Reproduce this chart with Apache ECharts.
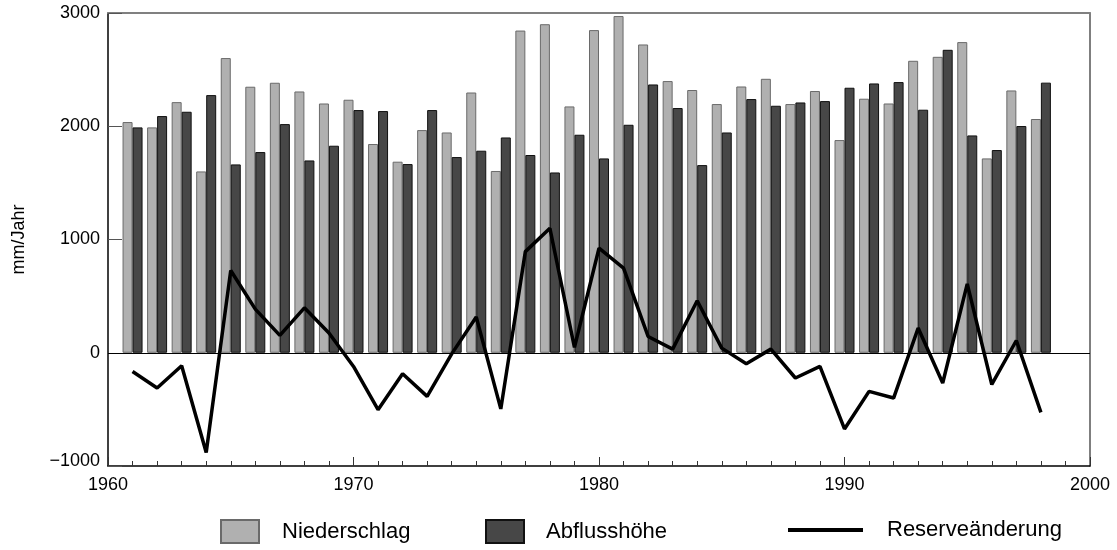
<!DOCTYPE html>
<html>
<head>
<meta charset="utf-8">
<script src="https://cdn.jsdelivr.net/npm/echarts@6/dist/echarts.min.js"></script>
<style>
html,body{margin:0;padding:0;background:#fff;}
#chart{width:1117px;height:550px;}
</style>
</head>
<body>
<div id="chart"></div>
<script>
var years = [1961,1962,1963,1964,1965,1966,1967,1968,1969,1970,
             1971,1972,1973,1974,1975,1976,1977,1978,1979,1980,
             1981,1982,1983,1984,1985,1986,1987,1988,1989,1990,
             1991,1992,1993,1994,1995,1996,1997,1998];
var niederschlag = [2037,1990,2213,1601,2602,2349,2384,2307,2201,2234,
                    1843,1687,1966,1945,2298,1605,2845,2901,2175,2849,
                    2973,2722,2399,2320,2196,2351,2419,2196,2311,1878,
                    2243,2201,2578,2613,2743,1716,2316,2064];
var abflusshoehe = [1990,2090,2128,2275,1663,1772,2019,1698,1828,2143,
                    2134,1666,2143,1728,1784,1901,1746,1592,1925,1716,
                    2013,2369,2161,1657,1945,2240,2181,2210,2222,2340,
                    2378,2390,2146,2675,1919,1790,2002,2385];
var reserve = [-165,-311,-115,-880,726,385,153,397,174,-121,
               -503,-185,-385,-10,315,-496,893,1099,47,923,
               747,144,32,459,41,-97,32,-223,-121,-673,
               -341,-400,218,-267,608,-280,108,-526];
var yTicks = [-1000,0,1000,2000,3000];
var xTicks = [1960,1970,1980,1990,2000];

function pairs(vals){ return years.map(function(y,i){ return [y, vals[i]]; }); }

var FONT = "'Liberation Sans', Arial, Helvetica, sans-serif";
var chart = echarts.init(document.getElementById('chart'), null, {renderer:'canvas'});
var option = {
  animation:false,
  backgroundColor:'#ffffff',
  textStyle:{fontFamily:FONT},
  grid:{left:108, right:27, top:13, bottom:84, containLabel:false},
  legend:[
    {data:[{name:'Niederschlag', icon:'rect'}], left:220, top:519, itemWidth:38, itemHeight:23, padding:0,
     textStyle:{fontSize:22, color:'#000', fontFamily:FONT, padding:[0,0,0,18]}},
    {data:[{name:'Abflusshöhe', icon:'rect'}], left:485, top:519, itemWidth:38, itemHeight:23, padding:0,
     textStyle:{fontSize:22, color:'#000', fontFamily:FONT, padding:[0,0,0,17]}},
    {data:[{name:'Reserveänderung', icon:'path://M0,0H75V4H0Z'}], left:788, top:519, itemWidth:75, itemHeight:23, padding:0,
     symbolKeepAspect:true, itemStyle:{color:'#000', borderWidth:0},
     textStyle:{fontSize:22, color:'#000', fontFamily:FONT, padding:[0,0,0,19]}}
  ],
  xAxis:[{
    type:'value', min:xTicks[0], max:xTicks[xTicks.length-1], interval:10,
    position:'bottom',
    axisLine:{show:true, onZero:false, lineStyle:{color:'#000', width:1.5}},
    axisTick:{show:true, inside:true, length:9, lineStyle:{color:'#333', width:1}},
    minorTick:{show:true, splitNumber:10, length:5, lineStyle:{color:'#333', width:1}},
    splitLine:{show:false},
    axisLabel:{fontSize:18, color:'#000', margin:10, fontFamily:FONT,
      formatter:function(v){ return String(v); }}
  },{
    type:'value', min:1960, max:2000, position:'top',
    axisLine:{show:true, onZero:false, lineStyle:{color:'#808080', width:2}},
    axisTick:{show:false}, axisLabel:{show:false}, splitLine:{show:false}
  }],
  yAxis:[{
    type:'value', min:yTicks[0], max:yTicks[yTicks.length-1], interval:1000,
    name:'mm/Jahr', nameLocation:'middle', nameGap:80,
    nameTextStyle:{fontSize:18, color:'#000', fontFamily:FONT},
    axisLine:{show:true, onZero:false, lineStyle:{color:'#000', width:1.5}},
    axisTick:{show:true, inside:true, length:14, lineStyle:{color:'#555', width:1}},
    splitLine:{show:false},
    axisLabel:{fontSize:18, color:'#000', margin:8, fontFamily:FONT,
      formatter:function(v){
        if (v === yTicks[0]) { return '{low|\u2212' + Math.abs(v) + '}'; }
        return v < 0 ? '\u2212' + Math.abs(v) : String(v);
      },
      rich:{low:{fontSize:18, color:'#000', fontFamily:FONT, padding:[0,0,9,0]}}}
  },{
    type:'value', min:-1000, max:3000, position:'right',
    axisLine:{show:true, onZero:false, lineStyle:{color:'#555', width:1.5}},
    axisTick:{show:false}, axisLabel:{show:false}, splitLine:{show:false}
  }],
  series:[
    {name:'Niederschlag', type:'bar', xAxisIndex:0, yAxisIndex:0,
     barWidth:10, barGap:'0%', data:pairs(niederschlag),
     itemStyle:{color:'#b0b0b0', borderColor:'#6a6a6a', borderWidth:1}},
    {name:'Abflusshöhe', type:'bar', xAxisIndex:0, yAxisIndex:0,
     barWidth:10, barGap:'0%', data:pairs(abflusshoehe),
     itemStyle:{color:'#474747', borderColor:'#111', borderWidth:1}},
    {name:'Reserveänderung', type:'line', xAxisIndex:0, yAxisIndex:0,
     data:pairs(reserve), symbol:'none', showSymbol:false, z:5,
     lineStyle:{color:'#000', width:3.5}, itemStyle:{color:'#000'},
     markLine:{silent:true, symbol:['none','none'], label:{show:false},
       lineStyle:{color:'#000', width:1, type:'solid'}, data:[{yAxis:0}]}}
  ]
};
chart.setOption(option);
</script>
</body>
</html>
